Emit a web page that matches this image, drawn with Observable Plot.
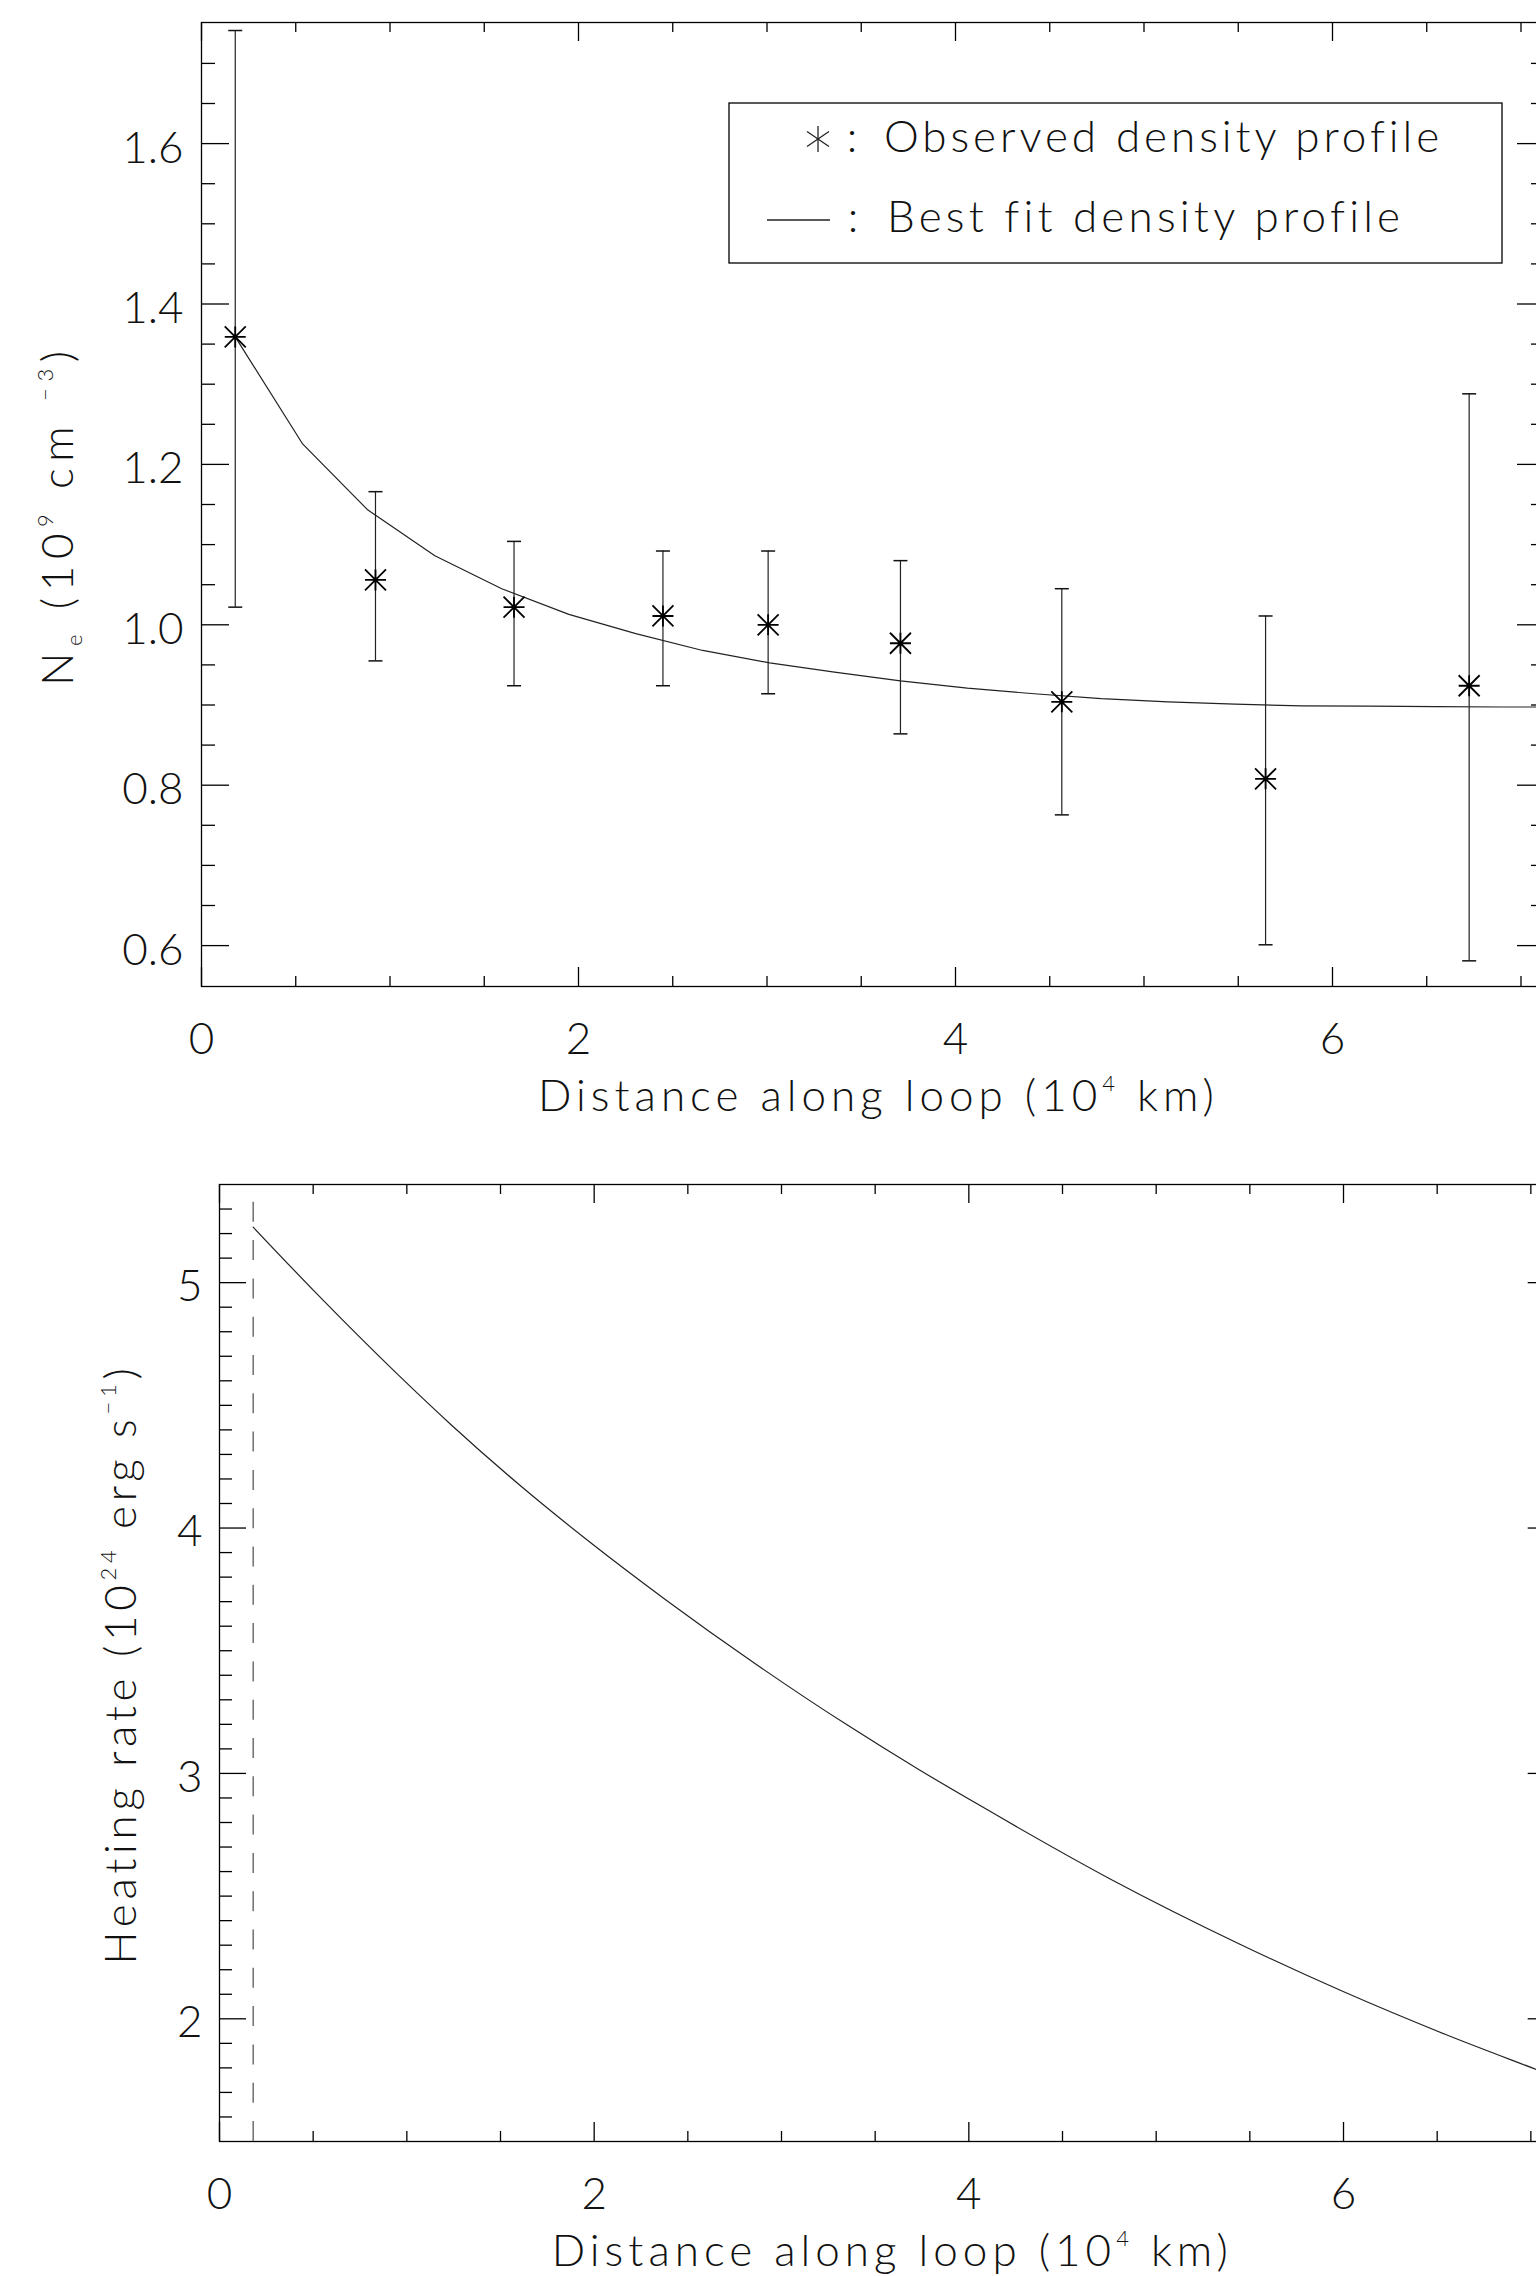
<!DOCTYPE html>
<html><head><meta charset="utf-8">
<script src="https://cdn.jsdelivr.net/npm/d3@7"></script>
<script src="https://cdn.jsdelivr.net/npm/@observablehq/plot@0.6"></script>
<style>
html,body{margin:0;padding:0;background:#fff;overflow:hidden;}
#wrap{position:relative;width:1536px;height:2276px;overflow:hidden;background:#fff;}
#wrap svg{position:absolute;overflow:visible;max-width:none !important;}
</style></head><body><div id="wrap"></div>
<script>
// ---------- data ----------
// Panel 1: observed density profile (10^9 cm^-3) vs distance (10^4 km)
const obsX  = [0.179, 0.923, 1.658, 2.448, 3.006, 3.708, 4.564, 5.645, 6.725];
const obsY  = [1.359, 1.056, 1.022, 1.011, 1.000, 0.977, 0.904, 0.808, 0.924];
const obsHi = [1.741, 1.166, 1.104, 1.092, 1.092, 1.080, 1.045, 1.011, 1.288];
const obsLo = [1.022, 0.955, 0.924, 0.924, 0.914, 0.864, 0.763, 0.601, 0.581];
// best fit density profile
const fitX = [0.179, 0.535, 0.883, 1.238, 1.593, 1.949, 2.304, 2.659, 3.014, 3.358, 3.708, 4.063, 4.418, 4.773, 5.128, 5.483, 5.838, 6.193, 6.548, 6.903, 7.13];
const fitY = [1.359, 1.226, 1.143, 1.086, 1.045, 1.013, 0.989, 0.968, 0.9525, 0.941, 0.930, 0.921, 0.914, 0.908, 0.904, 0.901, 0.899, 0.8985, 0.898, 0.8975, 0.8975];
// Panel 2: heating rate (10^24 erg s^-1)
const heatX = [0.18, 0.524, 0.954, 1.239, 1.621, 1.978, 2.383, 2.860, 3.337, 3.737, 4.044, 4.757, 5.447, 5.995, 6.542, 7.031, 7.13];
const heatY = [5.226, 4.951, 4.624, 4.419, 4.163, 3.942, 3.707, 3.447, 3.204, 3.014, 2.876, 2.569, 2.304, 2.112, 1.937, 1.793, 1.764];
const footX = [0.18];           // dashed marker position
const footY = [1.5, 5.334];     // dashed marker extent

// axes
const xDomain = [0, 7.13];
const xMajor = [0, 2, 4, 6];
const xMinor = [0.5, 1, 1.5, 2.5, 3, 3.5, 4.5, 5, 5.5, 6.5, 7];
const y1Domain = [0.549, 1.751];
const y1Major = [0.6, 0.8, 1.0, 1.2, 1.4, 1.6];
const y1Minor = [0.65, 0.7, 0.75, 0.85, 0.9, 0.95, 1.05, 1.1, 1.15, 1.25, 1.3, 1.35, 1.45, 1.5, 1.55, 1.65, 1.7];
const y2Domain = [1.5, 5.4];
const y2Major = [2, 3, 4, 5];
const y2Minor = [1.6, 1.7, 1.8, 1.9, 2.1, 2.2, 2.3, 2.4, 2.5, 2.6, 2.7, 2.8, 2.9, 3.1, 3.2, 3.3, 3.4, 3.5, 3.6, 3.7, 3.8, 3.9, 4.1, 4.2, 4.3, 4.4, 4.5, 4.6, 4.7, 4.8, 4.9, 5.1, 5.2, 5.3];

// text
const xTitle = "Distance along loop (10^{4} km)";
const y1Title = "N_{e} (10^{9} cm ^{\u22123})";
const y2Title = "Heating rate (10^{24} erg s^{\u22121})";
const legendObs = "Observed density profile";
const legendFit = "Best fit density profile";

// ---------- styling ----------
const FONT = "Lato, 'DejaVu Sans', sans-serif";
const FS = 44, FW = 300, TXT = "#111";
const txt = {fontSize: FS, fontWeight: FW, fill: TXT, fontFamily: FONT};

const asterisk = {draw(ctx, size) {
  const r = Math.sqrt(size / Math.PI);
  ctx.moveTo(-r, 0); ctx.lineTo(r, 0);
  ctx.moveTo(0, -r); ctx.lineTo(0, r);
  ctx.moveTo(-r, -r); ctx.lineTo(r, r);
  ctx.moveTo(-r, r); ctx.lineTo(r, -r);
}};
const cap = {draw(ctx, size) {
  const r = Math.sqrt(size / Math.PI);
  ctx.moveTo(-r, 0); ctx.lineTo(r, 0);
}};

function ticks(fw, fh, yMajor, yMinor, xMaj, xMin, yMaj, yMin) {
  const s = {stroke: "black", strokeWidth: 1.3};
  return [
    Plot.ruleX(xMajor, {...s, insetTop: fh - xMaj}),
    Plot.ruleX(xMinor, {...s, insetTop: fh - xMin}),
    Plot.ruleX(xMajor, {...s, insetBottom: fh - xMaj}),
    Plot.ruleX(xMinor, {...s, insetBottom: fh - xMin}),
    Plot.ruleY(yMajor, {...s, insetRight: fw - yMaj}),
    Plot.ruleY(yMinor, {...s, insetRight: fw - yMin}),
    Plot.ruleY(yMajor, {...s, insetLeft: fw - yMaj}),
    Plot.ruleY(yMinor, {...s, insetLeft: fw - yMin}),
    Plot.frame({stroke: "black", strokeWidth: 1.3})
  ];
}

const obs = obsX.map((x, i) => ({x, y: obsY[i], hi: obsHi[i], lo: obsLo[i]}));
const fit = fitX.map((x, i) => ({x, y: fitY[i]}));
const heat = heatX.map((x, i) => ({x, y: heatY[i]}));

// ---------- top panel ----------
const W1 = 1560, H1 = 1150, mL1 = 201, mR1 = 15, mT1 = 22, mB1 = 164;
const topPlot = Plot.plot({
  width: W1, height: H1, marginLeft: mL1, marginRight: mR1, marginTop: mT1, marginBottom: mB1,
  x: {domain: xDomain, axis: null},
  y: {domain: y1Domain, axis: null},
  style: {background: "transparent", maxWidth: "none", fontFamily: FONT},
  marks: [
    ...ticks(W1 - mL1 - mR1, H1 - mT1 - mB1, y1Major, y1Minor, 19, 10, 28, 14),
    Plot.line(fit, {x: "x", y: "y", stroke: "#222", strokeWidth: 1.2}),
    Plot.ruleX(obs, {x: "x", y1: "lo", y2: "hi", stroke: "#222", strokeWidth: 1.2}),
    Plot.dot(obs, {x: "x", y: "hi", symbol: cap, r: 7, fill: "none", stroke: "#111", strokeWidth: 1.5}),
    Plot.dot(obs, {x: "x", y: "lo", symbol: cap, r: 7, fill: "none", stroke: "#111", strokeWidth: 1.5}),
    Plot.dot(obs, {x: "x", y: "y", symbol: asterisk, r: 10.5, fill: "none", stroke: "black", strokeWidth: 1.8}),
    Plot.text(xMajor, {x: d => d, text: d => String(d), frameAnchor: "bottom", dy: 53, lineAnchor: "middle", textAnchor: "middle", ...txt}),
    Plot.text(y1Major, {y: d => d, text: d => d.toFixed(1), frameAnchor: "left", dx: -18, dy: 5, lineAnchor: "middle", textAnchor: "end", ...txt}),
    Plot.text([xTitle], {text: d => d, frameAnchor: "bottom", dx: 5, dy: 110, lineAnchor: "middle", textAnchor: "middle", ...txt}),
    Plot.text([y1Title], {text: d => d, frameAnchor: "left", rotate: -90, dx: -143, dy: 10.5, lineAnchor: "middle", textAnchor: "middle", ...txt})
  ]
});

// ---------- bottom panel ----------
const W2 = 1570, H2 = 1126, mL2 = 219, mR2 = 15.3, mT2 = 34, mB2 = 135;
const bottomPlot = Plot.plot({
  width: W2, height: H2, marginLeft: mL2, marginRight: mR2, marginTop: mT2, marginBottom: mB2,
  x: {domain: xDomain, axis: null},
  y: {domain: y2Domain, axis: null},
  style: {background: "transparent", maxWidth: "none", fontFamily: FONT},
  marks: [
    ...ticks(W2 - mL2 - mR2, H2 - mT2 - mB2, y2Major, y2Minor, 19, 10, 27, 13),
    Plot.ruleX(footX, {x: d => d, y1: footY[0], y2: footY[1], stroke: "#777", strokeWidth: 1.6, strokeDasharray: "20,18.3"}),
    Plot.line(heat, {x: "x", y: "y", stroke: "#222", strokeWidth: 1.2, curve: "monotone-x"}),
    Plot.text(xMajor, {x: d => d, text: d => String(d), frameAnchor: "bottom", dy: 53, lineAnchor: "middle", textAnchor: "middle", ...txt}),
    Plot.text(y2Major, {y: d => d, text: d => String(d), frameAnchor: "left", dx: -17, dy: 4, lineAnchor: "middle", textAnchor: "end", ...txt}),
    Plot.text([xTitle], {text: d => d, frameAnchor: "bottom", dx: 5, dy: 110, lineAnchor: "middle", textAnchor: "middle", ...txt}),
    Plot.text([y2Title], {text: d => d, frameAnchor: "left", rotate: -90, dx: -98, dy: 1, lineAnchor: "middle", textAnchor: "middle", ...txt})
  ]
});

const wrap = document.getElementById("wrap");
topPlot.style.left = "0px"; topPlot.style.top = "0px";
bottomPlot.style.left = "0px"; bottomPlot.style.top = "1150px";
wrap.appendChild(topPlot);
wrap.appendChild(bottomPlot);

// ---------- legend (overlay) ----------
const leg = d3.create("svg").attr("width", 1536).attr("height", 300)
  .style("left", "0px").style("top", "0px").style("font-family", FONT);
leg.append("rect").attr("x", 729).attr("y", 103).attr("width", 773).attr("height", 160)
  .attr("fill", "none").attr("stroke", "black").attr("stroke-width", 1.3);
const ast = leg.append("g").attr("transform", "translate(818,139)").attr("stroke", "#222").attr("stroke-width", 1.3);
ast.append("line").attr("x1", 0).attr("y1", -13).attr("x2", 0).attr("y2", 13);
ast.append("line").attr("x1", -11).attr("y1", -7.5).attr("x2", 11).attr("y2", 7.5);
ast.append("line").attr("x1", -11).attr("y1", 7.5).attr("x2", 11).attr("y2", -7.5);
leg.append("line").attr("x1", 767).attr("x2", 830).attr("y1", 220).attr("y2", 220).attr("stroke", "#222").attr("stroke-width", 1.3);
const legText = (x, y, s, anchor) => leg.append("text").attr("x", x).attr("y", y).attr("text-anchor", anchor)
  .attr("font-size", FS).attr("font-weight", FW).attr("fill", TXT).text(s);
legText(852, 152, ":", "middle");
legText(853, 232, ":", "middle");
const lo = legText(884, 152, legendObs, "start");
const lf = legText(887, 232, legendFit, "start");
wrap.appendChild(leg.node());

// ---------- text post-processing: super/subscripts and widths ----------
function richify(el) {
  const t = el.textContent;
  if (!/[\^_]\{/.test(t)) return;
  const s = d3.select(el);
  s.text(null);
  const re = /([\^_])\{([^}]*)\}|([^\^_]+)/g;
  let m, shift = 0;
  while ((m = re.exec(t))) {
    if (m[3]) {
      s.append("tspan").attr("dy", -shift).text(m[3]);
      shift = 0;
    } else {
      const d = m[1] === "^" ? -20 : 9;
      s.append("tspan").attr("dy", d - shift).attr("font-size", 22).text(m[2]);
      shift = d;
    }
  }
}
function fitWidth(el, target) {
  el.setAttribute("letter-spacing", 0);
  const n = el.getNumberOfChars();
  const w = el.getComputedTextLength();
  el.setAttribute("letter-spacing", ((target - w) / Math.max(1, n - 1)).toFixed(2));
}
const widths = new Map([[xTitle, 676], [y1Title, 335], [y2Title, 597]]);
for (const svg of [topPlot, bottomPlot]) {
  d3.select(svg).selectAll("text").each(function() {
    const raw = this.textContent;
    const target = widths.get(raw);
    richify(this);
    if (target) fitWidth(this, target);
  });
}
fitWidth(lo.node(), 554);
fitWidth(lf.node(), 511);
</script></body></html>
